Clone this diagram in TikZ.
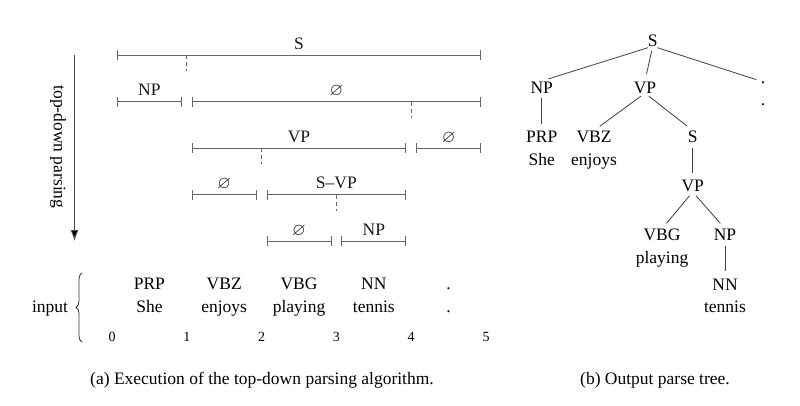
\documentclass[tikz,border=0pt]{standalone}
\usepackage{fontspec}
\setmainfont{Liberation Serif}
\usepackage{amssymb}
\usetikzlibrary{arrows.meta,decorations.pathreplacing}
\newcommand{\myspan}[5]{%
  \draw[spanline] (#1,#3) -- (#2,#3);
  \node[spanlabel] (#5) at ({(#1+#2)/2},{#3-6}) {#4};}
\newcommand{\emp}{$\varnothing$}
\begin{document}
\begin{tikzpicture}[x=1pt,y=-1pt, font=\fontsize{17.5}{21}\selectfont,
  spanline/.style={draw=black!60, line width=0.9pt, {Bar[width=10pt]}-{Bar[width=10pt]}},
  spanlabel/.style={anchor=base, inner sep=0pt, text=black!90},
  splitmark/.style={draw=black!60, line width=0.9pt, dash pattern=on 4pt off 3pt},
  tok/.style={anchor=base, inner sep=0pt},
  num/.style={anchor=base, inner sep=0pt, font=\fontsize{14}{16}\selectfont},
  tnode/.style={anchor=base, inner xsep=1pt, inner ysep=0pt, text height=11.8pt, text depth=0pt},
  tdot/.style={anchor=base, inner sep=0pt, text height=1.5pt, text depth=0pt},
  tedge/.style={draw=black!75, line width=0.8pt, shorten <=5pt, shorten >=7pt},
]
\fill[white] (0,0) rectangle (800,405);
\useasboundingbox (0,0) rectangle (800,405);

% ---- (a) spans ----
\myspan{117}{481}{55}{S}{s1}
\draw[splitmark] (186.8,55) -- (186.8,71);
\myspan{117}{181.8}{101.6}{NP}{s2a}
\myspan{191.8}{481}{101.6}{\emp}{s2b}
\draw[splitmark] (411.2,101.6) -- (411.2,117.6);
\myspan{191.8}{406.2}{148.2}{VP}{s3a}
\myspan{416.2}{481}{148.2}{\emp}{s3b}
\draw[splitmark] (261.6,148.2) -- (261.6,164.2);
\myspan{191.8}{256.6}{194.8}{\emp}{s4a}
\myspan{266.6}{406.2}{194.8}{S--VP}{s4b}
\draw[splitmark] (336.4,194.8) -- (336.4,210.8);
\myspan{266.6}{331.4}{241.4}{\emp}{s5a}
\myspan{341.4}{406.2}{241.4}{NP}{s5b}

% ---- arrow ----
\coordinate (atop) at (74.5,55);
\coordinate (abot) at (74.5,241);
\draw[-{Latex[length=11pt,width=8pt,fill=black]}, line width=0.9pt, draw=black!70] (atop) -- (abot);
\node[rotate=-90, inner sep=0pt] (tdp) at (58,147) {top-down parsing};

% ---- input ----
\node[tok] (inp) at (50,312.5) {input};
\draw[decorate, decoration={brace, amplitude=6pt}, line width=0.8pt, black!80] (82,342) -- (82,273);
\node[tok] (t1) at (149.4,289) {PRP};
\node[tok] (t2) at (224.2,289) {VBZ};
\node[tok] (t3) at (299,289) {VBG};
\node[tok] (t4) at (373.8,289) {NN};
\node[tok] (t5) at (448.6,289) {.};
\node[tok] (w1) at (149.4,312.5) {She};
\node[tok] (w2) at (224.2,312.5) {enjoys};
\node[tok] (w3) at (299,312.5) {playing};
\node[tok] (w4) at (373.8,312.5) {tennis};
\node[tok] (w5) at (448.6,312.5) {.};
\node[num] (n0) at (112,341.5) {0};
\node[num] (n1) at (186.8,341.5) {1};
\node[num] (n2) at (261.6,341.5) {2};
\node[num] (n3) at (336.4,341.5) {3};
\node[num] (n4) at (411.2,341.5) {4};
\node[num] (n5) at (486,341.5) {5};

% ---- captions ----
\node[tok] (capa) at (262,384) {(a) Execution of the top-down parsing algorithm.};
\node[tok] (capb) at (655,384) {(b) Output parse tree.};

% ---- (b) tree ----
\node[tnode] (S) at (652.7,46) {S};
\node[tnode] (NP) at (541.7,93) {NP};
\node[tnode] (VP) at (645,93) {VP};
\node[tdot] (dT) at (763,83.5) {.};
\node[tdot] (dW) at (763,105) {.};
\node[tnode] (PRP) at (541.7,142.5) {PRP};
\node[tok] (She) at (541.7,165) {She};
\node[tnode] (VBZ) at (594,142.5) {VBZ};
\node[tok] (enj) at (594,165) {enjoys};
\node[tnode] (S2) at (692.7,142.5) {S};
\node[tnode] (VP2) at (692.7,191.7) {VP};
\node[tnode] (VBG) at (662,240.7) {VBG};
\node[tok] (ply) at (662,263.5) {playing};
\node[tnode] (NP2) at (725,240.7) {NP};
\node[tnode] (NN) at (725,290) {NN};
\node[tok] (ten) at (725,312.7) {tennis};

\draw[tedge] (S.south) -- (NP.north);
\draw[tedge] (S.south) -- (VP.north);
\draw[tedge] (S.south) -- (dT.north);
\draw[tedge] (NP.south) -- (PRP.north);
\draw[tedge] (VP.south) -- (VBZ.north);
\draw[tedge] (VP.south) -- (S2.north);
\draw[tedge] (S2.south) -- (VP2.north);
\draw[tedge] (VP2.south) -- (VBG.north);
\draw[tedge] (VP2.south) -- (NP2.north);
\draw[tedge] (NP2.south) -- (NN.north);
\end{tikzpicture}
\end{document}
